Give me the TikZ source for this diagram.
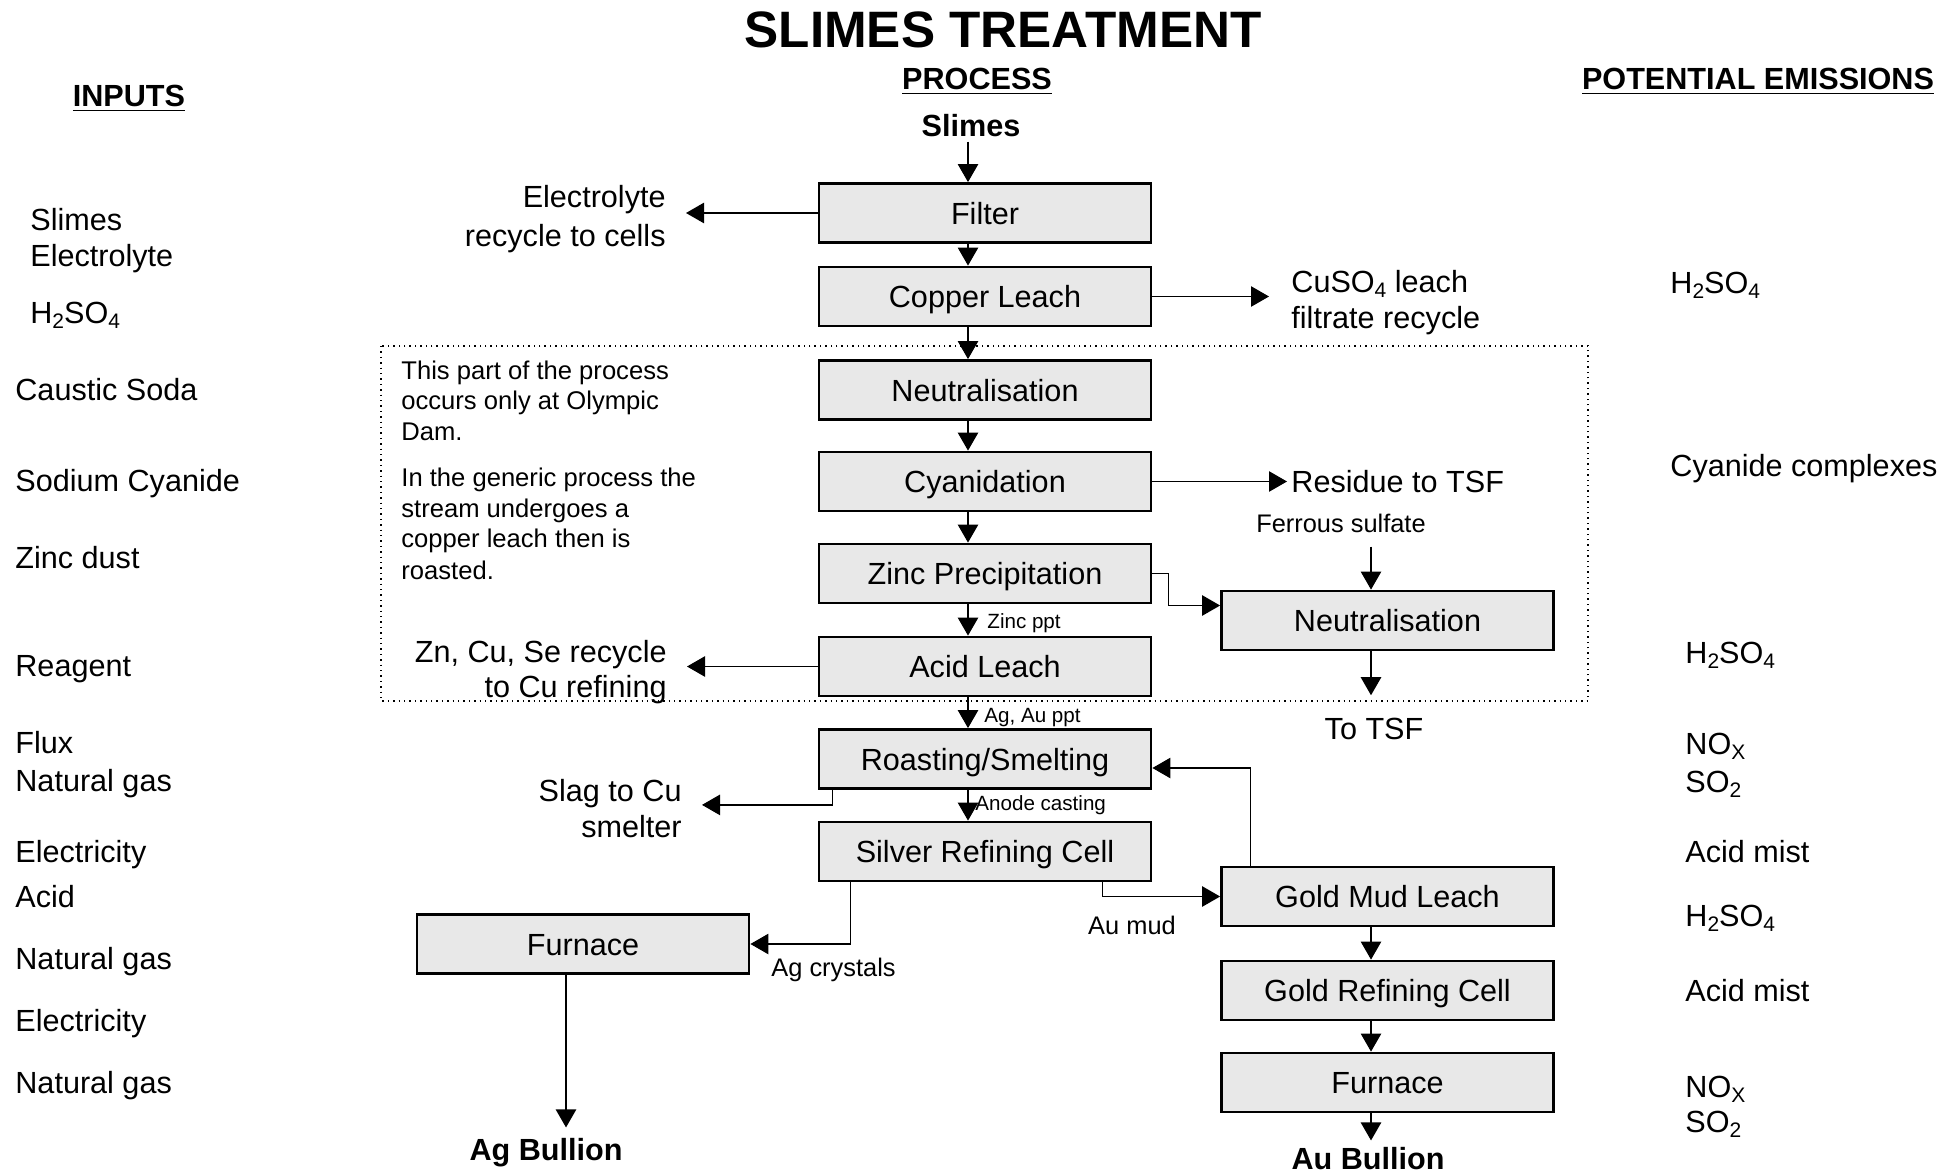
\documentclass[tikz,border=0pt]{standalone}
\usepackage{fontspec}
\setmainfont{Liberation Sans}
\usetikzlibrary{arrows.meta}
\definecolor{boxfill}{RGB}{232,232,232}
\newcommand\sizemain{\fontsize{15.3}{19}\selectfont}
\newcommand\sizenote{\fontsize{12.8}{15.3}\selectfont}
\newcommand\sizelbl{\fontsize{12.7}{15}\selectfont}
\newcommand\sizetiny{\fontsize{10.3}{12}\selectfont}
\newcommand\sizetitle{\fontsize{25.6}{30}\selectfont}
\newcommand\subsc[1]{\raisebox{-0.35ex}{\fontsize{10.5}{10}\selectfont #1}}

\begin{document}
\begin{tikzpicture}[x=0.5pt,y=-0.5pt,
  box/.style={draw, line width=1.4pt, fill=boxfill, minimum width=166pt,
    minimum height=29.5pt, inner sep=0pt, text height=11pt, text depth=0pt,
    font=\sizemain},
  txt/.style={inner sep=0pt, anchor=base west, font=\sizemain},
  txtr/.style={inner sep=0pt, anchor=base east, font=\sizemain},
  txtc/.style={inner sep=0pt, anchor=base, font=\sizemain},
  head/.style={inner sep=0pt, anchor=base, font=\sizemain\bfseries},
  note/.style={inner sep=0pt, anchor=base west, font=\sizenote},
  small/.style={inner sep=0pt, anchor=base west, font=\sizelbl},
  tiny/.style={inner sep=0pt, anchor=base west, font=\sizetiny},
  flow/.style={line width=0.6pt, -{Triangle[length=9pt,width=10.2pt]}},
  link/.style={line width=0.6pt}]

\path[use as bounding box] (0,0) rectangle (1959,1172);

% column positions of the vertical streams
\coordinate (colx) at (968,0);
\coordinate (colr) at (1371,0);
\coordinate (agx) at (566,0);

% titles and headings
\node[inner sep=0pt, anchor=base, font=\sizetitle\bfseries] (title) at (1003,48) {SLIMES TREATMENT};
\node[head] (hin) at (129,107) {\underline{INPUTS}};
\node[head] (hproc) at (977,90) {\underline{PROCESS}};
\node[head] (hem) at (1758,90) {\underline{POTENTIAL EMISSIONS}};
\node[head] (slimes) at (971,137) {Slimes};

% Olympic Dam section
\draw[dotted, line width=0.7pt] (381,346) rectangle (1588,701);
\node[note] (n1) at (401,379) {This part of the process};
\node[note] (n2) at (401,409) {occurs only at Olympic};
\node[note] (n3) at (401,440) {Dam.};
\node[note] (n4) at (401,486) {In the generic process the};
\node[note] (n5) at (401,517) {stream undergoes a};
\node[note] (n6) at (401,547) {copper leach then is};
\node[note] (n7) at (401,579) {roasted.};

% process units
\node[box] (filter) at (985,213) {Filter};
\node[box] (cleach) at (985,296.5) {Copper Leach};
\node[box] (neut) at (985,390) {Neutralisation};
\node[box] (cyan) at (985,481.5) {Cyanidation};
\node[box] (zinc) at (985,573.5) {Zinc Precipitation};
\node[box] (acid) at (985,666.5) {Acid Leach};
\node[box] (roast) at (985,759) {Roasting/Smelting};
\node[box] (silver) at (985,851.5) {Silver Refining Cell};
\node[box] (neut2) at (1387.5,620.5) {Neutralisation};
\node[box] (goldmud) at (1387.5,896.5) {Gold Mud Leach};
\node[box] (goldref) at (1387.5,990.5) {Gold Refining Cell};
\node[box] (furnR) at (1387.5,1082.5) {Furnace};
\node[box] (furnL) at (583,944) {Furnace};

% stream labels
\node[txtr] (elecA) at (666,207) {Electrolyte};
\node[txtr] (elecB) at (666,246) {recycle to cells};
\node[txt] (cusoA) at (1291,292) {CuSO\subsc{4} leach};
\node[txt] (cusoB) at (1291,328) {filtrate recycle};
\node[txt] (resid) at (1291,492) {Residue to TSF};
\node[small, anchor=base] (ferrous) at (1341,532) {Ferrous sulfate};
\node[txtc] (totsf) at (1374,739) {To TSF};
\node[txtr] (zncuA) at (667,662) {Zn, Cu, Se recycle};
\node[txtr] (zncuB) at (667,697) {to Cu refining};
\node[txtr] (slagA) at (682,801) {Slag to Cu};
\node[txtr] (slagB) at (682,837) {smelter};
\node[tiny] (zppt) at (987,628) {Zinc ppt};
\node[tiny] (agppt) at (984,722) {Ag, Au ppt};
\node[tiny] (anode) at (975,810) {Anode casting};
\node[small, anchor=base] (aumud) at (1132,934) {Au mud};
\node[small] (agcry) at (771,976) {Ag crystals};
\node[head] (agb) at (546,1160) {Ag Bullion};
\node[head] (aub) at (1368,1169) {Au Bullion};

% main stream
\draw[flow] ([yshift=-2pt]slimes.south -| colx) -- (filter.north -| colx);
\draw[flow] (filter.south -| colx) -- (cleach.north -| colx);
\draw[flow] (cleach.south -| colx) -- (neut.north -| colx);
\draw[flow] (neut.south -| colx) -- (cyan.north -| colx);
\draw[flow] (cyan.south -| colx) -- (zinc.north -| colx);
\draw[flow] (zinc.south -| colx) -- (acid.north -| colx);
\draw[flow] (acid.south -| colx) -- (roast.north -| colx);
\draw[flow] (roast.south -| colx) -- (silver.north -| colx);

% side streams
\draw[flow] (filter.west) -- ([xshift=10pt]filter.west -| elecA.east);
\draw[flow] (cleach.east) -- ([xshift=-11pt]cleach.east -| cusoA.west);
\draw[flow] (cyan.east) -- ([xshift=-2pt]cyan.east -| resid.west);
\draw[flow] ([yshift=-7pt]ferrous.south -| colr) -- (neut2.north -| colr);
\draw[flow] (zinc.east) -- ++(16,0) |- ([yshift=7.5pt]neut2.west);
\draw[flow] (neut2.south -| colr) -- ([yshift=11pt]totsf.north -| colr);
\draw[flow] (acid.west) -- ([xshift=10pt]acid.west -| zncuA.east);
\draw[flow] ([xshift=7.5pt]roast.south west) -- ++(0,15) coordinate (sk)
  -- ([xshift=10pt]sk -| slagA.east);
\draw[flow] ([xshift=15pt]goldmud.north west) |- ([yshift=-4.5pt]roast.east);
\draw[flow] ([xshift=-25pt]silver.south east) |- (goldmud.west);
\draw[flow] ([xshift=16.5pt]silver.south west) |- (furnL.east);
\draw[flow] (furnL.south -| agx) -- ([yshift=5pt]agb.north -| agx);

% gold stream
\draw[flow] (goldmud.south -| colr) -- (goldref.north -| colr);
\draw[flow] (goldref.south -| colr) -- (furnR.north -| colr);
\draw[flow] (furnR.south -| colr) -- ([yshift=3pt]aub.north -| colr);

% inputs
\node[txt] (i1) at (30,230) {Slimes};
\node[txt] (i2) at (30,266) {Electrolyte};
\node[txt] (i3) at (30,323) {H\subsc{2}SO\subsc{4}};
\node[txt] (i4) at (15,400) {Caustic Soda};
\node[txt] (i5) at (15,491) {Sodium Cyanide};
\node[txt] (i6) at (15,568) {Zinc dust};
\node[txt] (i7) at (15,676) {Reagent};
\node[txt] (i8) at (15,753) {Flux};
\node[txt] (i9) at (15,791) {Natural gas};
\node[txt] (i10) at (15,862) {Electricity};
\node[txt] (i11) at (15,907) {Acid};
\node[txt] (i12) at (15,969) {Natural gas};
\node[txt] (i13) at (15,1031) {Electricity};
\node[txt] (i14) at (15,1093) {Natural gas};

% potential emissions
\node[txt] (e1) at (1670,293) {H\subsc{2}SO\subsc{4}};
\node[txt] (e2) at (1670,476) {Cyanide complexes};
\node[txt] (e3) at (1685,663) {H\subsc{2}SO\subsc{4}};
\node[txt] (e4) at (1685,754) {NO\subsc{X}};
\node[txt] (e5) at (1685,792) {SO\subsc{2}};
\node[txt] (e6) at (1685,862) {Acid mist};
\node[txt] (e7) at (1685,926) {H\subsc{2}SO\subsc{4}};
\node[txt] (e8) at (1685,1001) {Acid mist};
\node[txt] (e9) at (1685,1097) {NO\subsc{X}};
\node[txt] (e10) at (1685,1132) {SO\subsc{2}};
\end{tikzpicture}
\end{document}
